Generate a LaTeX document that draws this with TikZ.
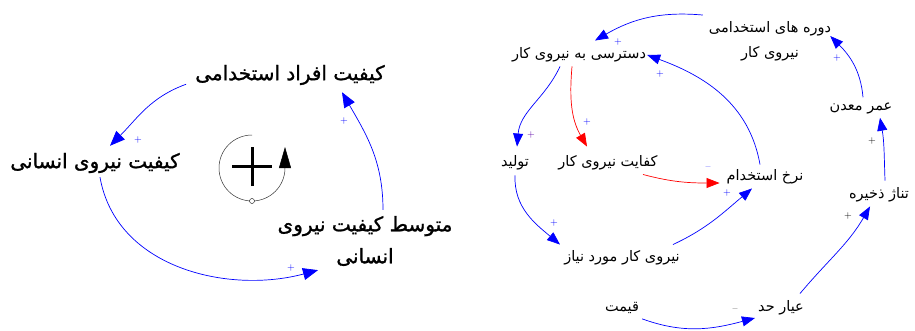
\documentclass[tikz,border=0pt]{standalone}
\usepackage{fontspec}
\newfontfamily\arabicfont[Script=Arabic]{DejaVu Sans}
\newfontfamily\arabicheavy[Script=Arabic,FakeBold=1.2]{DejaVu Sans}
\TeXXeTstate=1
\usetikzlibrary{arrows.meta}
\newcommand{\fa}[1]{\beginR #1\endR}
\tikzset{
  varbig/.style={font=\arabicheavy\fontsize{20}{32}\selectfont, inner sep=1pt, align=center},
  varsmall/.style={font=\arabicfont\fontsize{14.5}{25}\selectfont, inner sep=1pt, align=center},
  biglink/.style={blue, line width=0.7pt, -{Triangle[length=15pt,width=12pt]}},
  poslink/.style={blue, line width=0.7pt, -{Triangle[length=13pt,width=10pt]}},
  neglink/.style={red, line width=0.7pt, -{Triangle[length=13pt,width=10pt]}},
  polsign/.style={font=\fontsize{10}{10}\selectfont, text=blue, inner sep=0pt}
}
\begin{document}
\begin{tikzpicture}[x=1pt,y=1pt]
\useasboundingbox (0,0) rectangle (915,330);
% --- Left loop ---
\node[varbig] (afrad) at (290,255) {\fa{کیفیت افراد استخدامی}};
\node[varbig] (niru) at (95,167) {\fa{کیفیت نیروی انسانی}};
\node[varbig] (motavaset) at (365,89) {\fa{متوسط کیفیت نیروی}\\\fa{انسانی}};
\draw[biglink] ([xshift=-8pt,yshift=2pt]afrad.south west) to[out=200,in=45] ([xshift=15pt,yshift=6pt]niru.north);
\draw[biglink] ([xshift=5pt,yshift=-3pt]niru.south) to[out=280,in=195] ([xshift=-47pt,yshift=-3pt]motavaset.south);
\draw[biglink] ([xshift=18pt,yshift=5pt]motavaset.north) to[out=90,in=300] ([xshift=52pt,yshift=-6pt]afrad.south);
\node[polsign] (s1) at (138,190) {+};
\node[polsign] (s2) at (291,62) {+};
\node[polsign] (s3) at (344,209) {+};
% loop symbol
\coordinate (loopc) at (252,162);
\draw[gray!40!black, line width=0.5pt, -{Triangle[length=21pt,width=12pt,fill=black,color=black]}]
  ([shift={(90:33)}]loopc) arc[start angle=90, end angle=360, radius=33] -- ++(0,21);
\draw[fill=white, line width=0.4pt] ([shift={(0,-33)}]loopc) circle (2.5);
\draw[line width=3pt] ([xshift=-20pt,yshift=2pt]loopc) -- ([xshift=20pt,yshift=2pt]loopc);
\draw[line width=3pt] ([yshift=-18pt]loopc) -- ([yshift=21pt]loopc);
% --- Right loops ---
\node[varsmall] (dore) at (770,289) {\fa{دوره های استخدامی}\\\fa{نیروی کار}};
\node[varsmall] (dastresi) at (579,275) {\fa{دسترسی به نیروی کار}};
\node[varsmall] (omr) at (861,222) {\fa{عمر معدن}};
\node[varsmall] (tolid) at (515,167) {\fa{تولید}};
\node[varsmall] (kefayat) at (608,167) {\fa{کفایت نیروی کار}};
\node[varsmall] (nerkh) at (765,153) {\fa{نرخ استخدام}};
\node[varsmall] (tonaj) at (879,135) {\fa{تناژ ذخیره}};
\node[varsmall] (niaz) at (622,72) {\fa{نیروی کار مورد نیاز}};
\node[varsmall] (gheymat) at (622,22) {\fa{قیمت}};
\node[varsmall] (ayar) at (781,22) {\fa{عیار حد}};
\draw[poslink] ([xshift=-5pt,yshift=5pt]dore.north west) to[out=175,in=30] ([xshift=16pt,yshift=6pt]dastresi.north);
\draw[poslink] ([xshift=2pt,yshift=4pt]omr.north) to[out=95,in=-45] ([xshift=-2pt,yshift=-16pt]dore.north east);
\draw[poslink] ([xshift=6pt,yshift=6pt]tonaj.north) to[out=92,in=280] ([xshift=19pt,yshift=-3pt]omr.south);
\draw[poslink] ([xshift=19pt,yshift=6pt]ayar.north) to[out=50,in=240] ([xshift=-9pt,yshift=-3pt]tonaj.south);
\draw[poslink] ([xshift=2pt,yshift=-4pt]gheymat.south east) to[out=-20,in=195] ([xshift=-2pt,yshift=-10pt]ayar.west);
\draw[poslink] ([yshift=-4pt]tolid.south) to[out=268,in=140] ([xshift=-62pt,yshift=5pt]niaz.north);
\draw[poslink] ([xshift=51pt,yshift=5pt]niaz.north) to[out=25,in=220] ([xshift=-13pt,yshift=-3pt]nerkh.south);
\draw[neglink] ([xshift=35pt,yshift=-3pt]kefayat.south) to[out=-15,in=180] ([xshift=-6pt,yshift=-6pt]nerkh.west);
\draw[poslink] ([xshift=-5pt,yshift=4pt]nerkh.north) to[out=100,in=-20] (dastresi.east);
\draw[poslink] ([xshift=-19pt,yshift=-3pt]dastresi.south) to[out=245,in=85] ([xshift=2pt,yshift=8pt]tolid.north);
\draw[neglink] ([xshift=-7pt,yshift=-3pt]dastresi.south) to[out=265,in=120] ([xshift=-21pt,yshift=8pt]kefayat.north);
\node[polsign] (r1) at (618,288) {+};
\node[polsign] (r2) at (837,272) {+};
\node[polsign, text=black] (r3) at (872,189) {+};
\node[polsign, text=black] (r4) at (848,114) {+};
\node[polsign, text=black] (r5) at (735,20) {--};
\node[polsign] (r6) at (554,107) {+};
\node[polsign] (r7) at (727,137) {+};
\node[polsign] (r8) at (708,162) {--};
\node[polsign] (r9) at (660,256) {+};
\node[polsign, text=violet!70!blue] (r10) at (531,195) {+};
\node[polsign] (r11) at (587,208) {+};
\end{tikzpicture}
\end{document}
